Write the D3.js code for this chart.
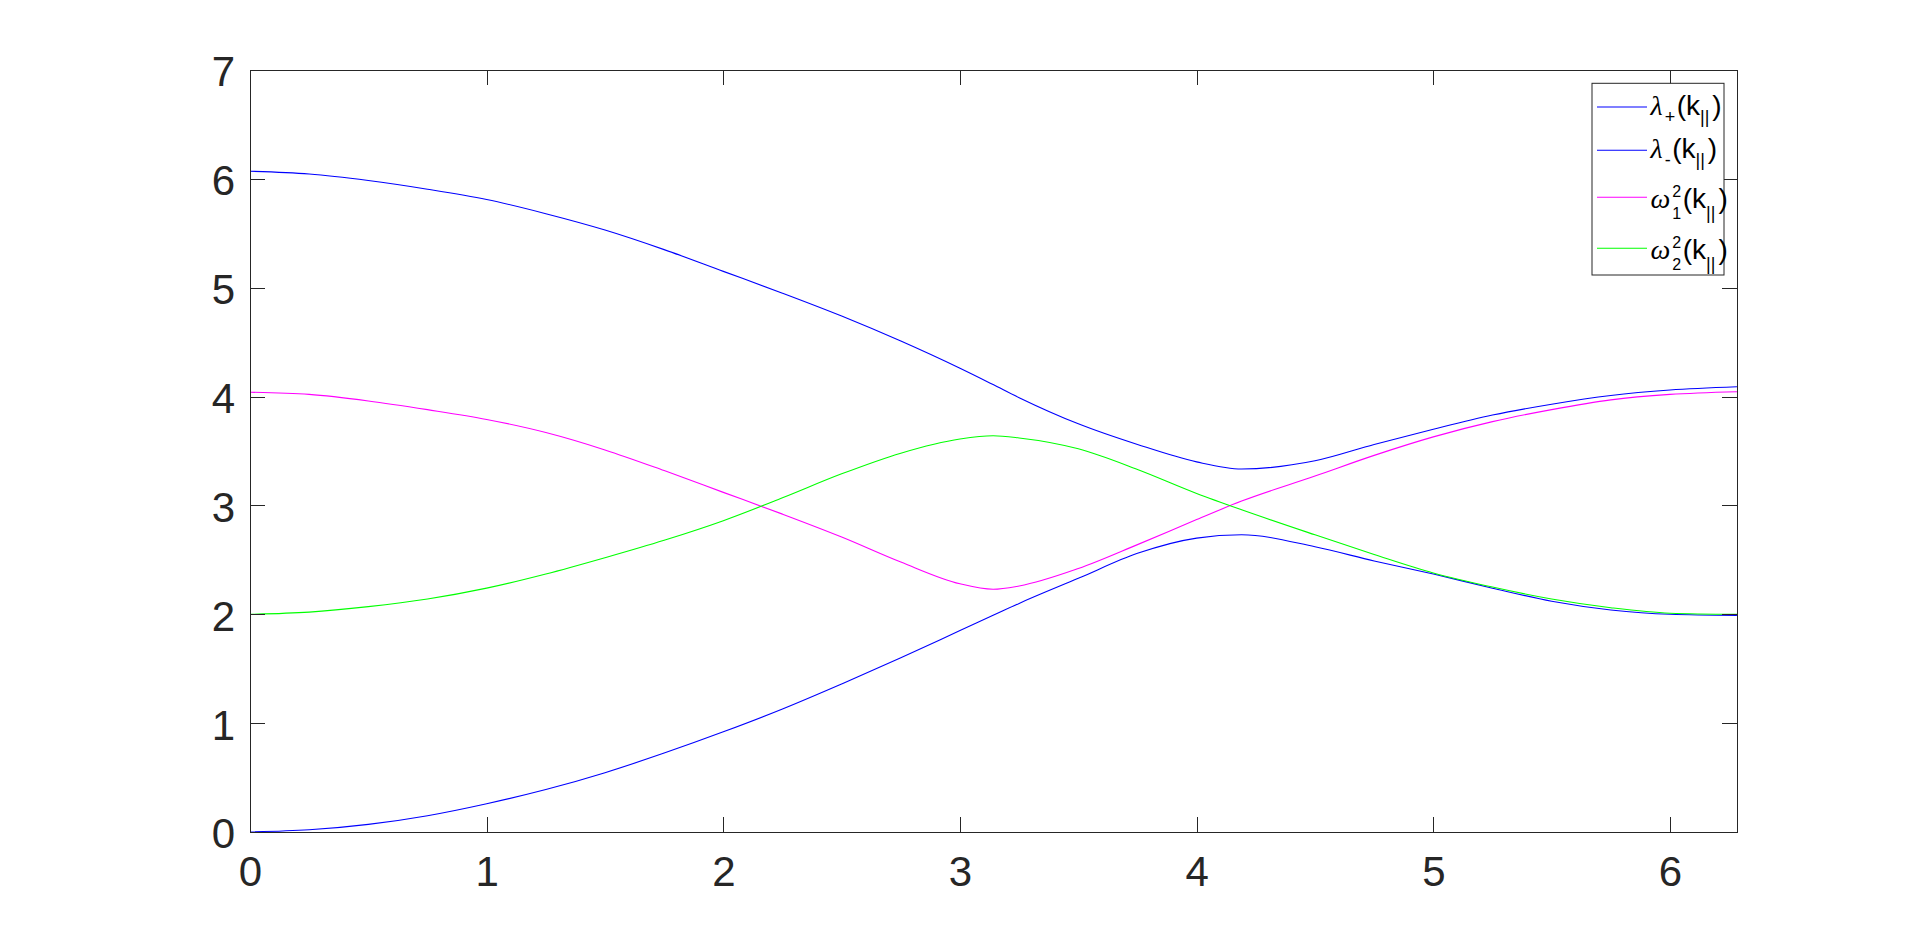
<!DOCTYPE html>
<html lang="en">
  <head>
    <meta charset="utf-8">
    <title>Eigenvalues vs k</title>
    <style>
    body {
        margin: 0;
        background: #ffffff;
    }
    .axis text {
        font-family: "Liberation Sans", Arial, Helvetica, sans-serif;
        font-size: 42px;
        fill: #262626;
    }
    .axis path, .axis line {
        stroke: #262626;
        stroke-width: 1;
        shape-rendering: crispEdges;
    }
    .curve {
        fill: none;
        stroke-width: 1.1;
    }
    .legend text {
        font-family: "Liberation Sans", Arial, Helvetica, sans-serif;
        fill: #000000;
    }
    </style>
  </head>
  <body>
    <div id="chart"></div>

    <script src="https://d3js.org/d3.v7.min.js"></script>
    <script>
    // values
    var kValues = [0, 0.25, 0.5, 0.75, 1, 1.25, 1.5, 1.75, 2, 2.25, 2.5, 2.75, 3, 3.14,
                   3.25, 3.5, 3.75, 4, 4.19, 4.5, 4.75, 5, 5.25, 5.5, 5.75, 6, 6.283];
    var lambdaPlus  = [6.07, 6.045, 5.985, 5.905, 5.81, 5.68, 5.53, 5.35, 5.15, 4.95, 4.74, 4.51, 4.26, 4.11,
                       3.99, 3.75, 3.56, 3.40, 3.335, 3.41, 3.56, 3.70, 3.83, 3.93, 4.01, 4.06, 4.09];
    var lambdaMinus = [0.00, 0.02, 0.07, 0.15, 0.26, 0.39, 0.545, 0.725, 0.92, 1.13, 1.36, 1.60, 1.85, 1.99,
                       2.10, 2.33, 2.56, 2.70, 2.73, 2.62, 2.49, 2.37, 2.24, 2.12, 2.04, 2.00, 1.99];
    var omega1Sq    = [4.04, 4.02, 3.96, 3.88, 3.79, 3.67, 3.51, 3.32, 3.12, 2.92, 2.71, 2.48, 2.28, 2.23,
                       2.26, 2.42, 2.64, 2.87, 3.04, 3.27, 3.46, 3.63, 3.77, 3.88, 3.97, 4.02, 4.045];
    var omega2Sq    = [2.00, 2.02, 2.07, 2.14, 2.24, 2.37, 2.52, 2.68, 2.86, 3.07, 3.29, 3.48, 3.61, 3.64,
                       3.62, 3.52, 3.33, 3.11, 2.96, 2.73, 2.55, 2.38, 2.25, 2.14, 2.06, 2.01, 2.00];

    var xTicks = [0, 1, 2, 3, 4, 5, 6];
    var yTicks = [0, 1, 2, 3, 4, 5, 6, 7];

    var legendSymbols = ['\u03BB', '\u03BB', '\u03C9', '\u03C9'];
    var legendSups    = ['', '', '2', '2'];
    var legendSubs    = ['+', '-', '1', '2'];
    var seriesColors  = ['#0000ff', '#0000ff', '#ff00ff', '#00ff00'];

    var series = [lambdaPlus, lambdaMinus, omega1Sq, omega2Sq];

    var width = 1920, height = 936;
    var margin = {left: 250, top: 70, right: 1920 - 1737, bottom: 936 - 832};
    var tickLen = 14.9;

    var svg = d3.select('#chart').append('svg')
        .attr('width', width)
        .attr('height', height);

    var x = d3.scaleLinear().domain([0, 2 * Math.PI]).range([margin.left, width - margin.right]);
    var y = d3.scaleLinear().domain([0, 7]).range([height - margin.bottom, margin.top]);

    var line = d3.line()
        .x(function(d) { return x(d[0]); })
        .y(function(d) { return y(d[1]); })
        .curve(d3.curveMonotoneX);

    svg.selectAll('path.curve')
        .data(series)
        .enter()
        .append('path')
        .attr('class', 'curve')
        .attr('stroke', function(d, i) { return seriesColors[i]; })
        .attr('d', function(vals) {
            return line(kValues.map(function(k, j) { return [k, vals[j]]; }));
        });

    // axes, ticks pointing inward on all four sides
    svg.append('g')
        .attr('class', 'axis')
        .attr('transform', 'translate(0,' + y(0) + ')')
        .call(d3.axisBottom(x).tickValues(xTicks).tickFormat(d3.format('d'))
            .tickSizeInner(-tickLen).tickSizeOuter(0).tickPadding(24.5));

    svg.append('g')
        .attr('class', 'axis')
        .attr('transform', 'translate(0,' + y(7) + ')')
        .call(d3.axisTop(x).tickValues(xTicks).tickFormat('')
            .tickSizeInner(-tickLen).tickSizeOuter(0));

    var left = svg.append('g')
        .attr('class', 'axis')
        .attr('transform', 'translate(' + x(0) + ',0)')
        .call(d3.axisLeft(y).tickValues(yTicks).tickFormat(d3.format('d'))
            .tickSizeInner(-tickLen).tickSizeOuter(0).tickPadding(15));
    left.selectAll('text').attr('dy', '0.38em');

    svg.append('g')
        .attr('class', 'axis')
        .attr('transform', 'translate(' + x(2 * Math.PI) + ',0)')
        .call(d3.axisRight(y).tickValues(yTicks).tickFormat('')
            .tickSizeInner(-tickLen).tickSizeOuter(0));

    // legend
    var boxRight = x(2 * Math.PI) - 13;
    var boxLeft = boxRight - 132;
    var boxTop = y(7) + 13.3;
    var boxBottom = boxTop + 191.7;
    var rowY = [23.7, 67, 114, 165];

    var legend = svg.append('g').attr('class', 'legend');

    legend.append('rect')
        .attr('x', boxLeft)
        .attr('y', boxTop)
        .attr('width', boxRight - boxLeft)
        .attr('height', boxBottom - boxTop)
        .attr('fill', '#ffffff')
        .attr('stroke', '#262626')
        .attr('stroke-width', 1);

    legendSymbols.forEach(function(sym, i) {
        var cy = boxTop + rowY[i];
        var stacked = legendSups[i] !== '';
        var g = legend.append('g');
        g.append('line')
            .attr('x1', boxLeft + 5).attr('x2', boxLeft + 55)
            .attr('y1', cy).attr('y2', cy)
            .attr('stroke', seriesColors[i])
            .attr('stroke-width', 1.1);

        var base = cy + (stacked ? 11 : 8);
        var subShift = stacked ? 10.5 : 8;
        var tx = boxLeft + 58.5;
        var s = g.append('text')
            .attr('x', tx).attr('y', base)
            .style('font-family', '"Liberation Serif", "DejaVu Serif", serif')
            .style('font-style', 'italic')
            .style('font-size', '28px')
            .text(sym);
        tx += s.node().getComputedTextLength() + 2;

        var w = 0;
        if (stacked) {
            var sup = g.append('text')
                .attr('x', tx).attr('y', base - 11.5)
                .style('font-size', '16px')
                .text(legendSups[i]);
            w = sup.node().getComputedTextLength();
        }
        var sub = g.append('text')
            .attr('x', tx).attr('y', base + subShift)
            .style('font-size', stacked ? '16px' : '18px')
            .text(legendSubs[i]);
        w = Math.max(w, sub.node().getComputedTextLength());
        tx += w + 1.5;

        var p = g.append('text')
            .attr('x', tx).attr('y', base)
            .style('font-size', '28px')
            .text('(k');
        tx += p.node().getComputedTextLength();
        var bars = g.append('text')
            .attr('x', tx).attr('y', base + subShift)
            .style('font-size', '18px')
            .text('||');
        tx += bars.node().getComputedTextLength() + 3;
        g.append('text')
            .attr('x', tx).attr('y', base)
            .style('font-size', '28px')
            .text(')');
    });
    </script>
  </body>
</html>
